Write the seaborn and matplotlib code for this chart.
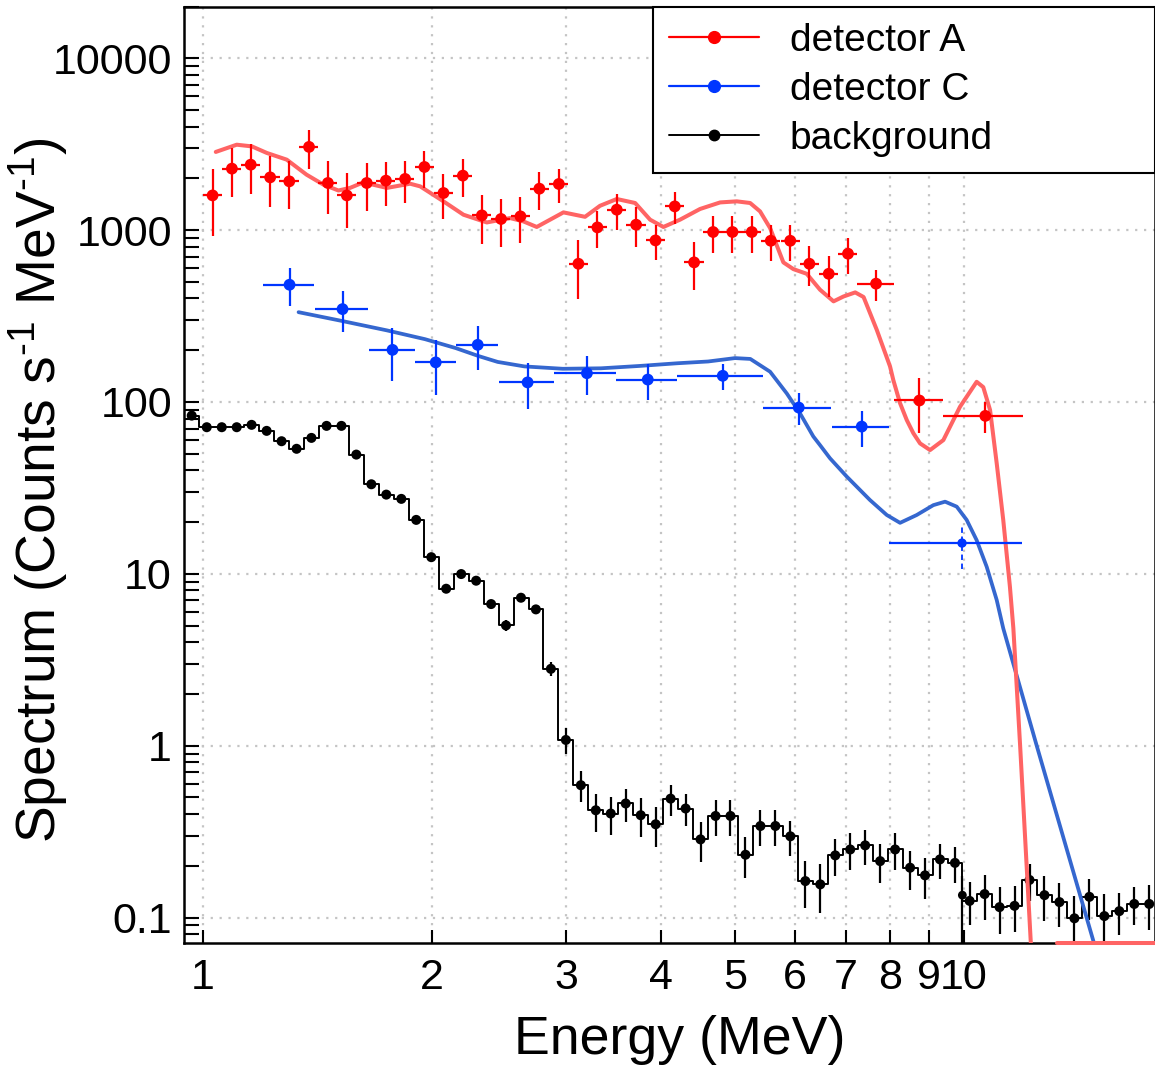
import numpy as np
import pandas as pd
import matplotlib
matplotlib.use("Agg")
import matplotlib.pyplot as plt
import seaborn as sns
from matplotlib.lines import Line2D
from matplotlib.ticker import FixedLocator, FixedFormatter, LogLocator, NullLocator, NullFormatter

# ---------------- data ----------------
# detector A (red points)
a_energy = [1.030, 1.092, 1.156, 1.226, 1.299, 1.379, 1.460, 1.546, 1.642, 1.740,
            1.844, 1.955, 2.071, 2.196, 2.326, 2.465, 2.614, 2.768, 2.936, 3.115,
            3.299, 3.498, 3.709, 3.933, 4.169, 4.420, 4.681, 4.964, 5.263, 5.574,
            5.912, 6.264, 6.642, 7.040, 7.664, 8.738, 10.666]
a_value = [1592, 2279, 2403, 2027, 1922, 3049, 1880, 1592, 1880, 1940,
           1985, 2330, 1644, 2075, 1218, 1161, 1202, 1742, 1855, 637,
           1037, 1315, 1075, 871, 1374, 649, 975, 975, 975, 867,
           867, 637, 557, 729, 488, 102, 83]
a_err = [670, 730, 770, 660, 600, 790, 640, 560, 580, 550,
         555, 570, 480, 520, 390, 360, 360, 425, 410, 240,
         250, 308, 280, 204, 290, 200, 240, 240, 240, 208,
         208, 166, 150, 170, 101, 36, 17]
a_xerr = [0.030, 0.032, 0.034, 0.036, 0.038, 0.040, 0.042, 0.045, 0.048, 0.050,
          0.053, 0.057, 0.060, 0.064, 0.067, 0.071, 0.076, 0.080, 0.085, 0.090,
          0.096, 0.101, 0.108, 0.114, 0.121, 0.128, 0.136, 0.144, 0.153, 0.162,
          0.171, 0.182, 0.193, 0.204, 0.42, 0.64, 1.29]

# detector C (blue points)
c_energy = [1.300, 1.526, 1.775, 2.023, 2.297, 2.671, 3.196, 3.842, 4.820, 6.066, 7.339, 9.94]
c_value = [481, 347, 201, 170, 215, 130, 147, 135, 142, 92.8, 71.9, 15.1]
c_err = [120, 93, 68, 60, 62, 39, 37, 32, 24, 19.5, 17, 4.5]
c_xerr = [0.099, 0.124, 0.123, 0.125, 0.149, 0.222, 0.299, 0.350, 0.621, 0.615, 0.638, 1.98]

# background (black histogram)
bg_energy = [0.967, 1.012, 1.059, 1.108, 1.159, 1.213, 1.269, 1.328, 1.389, 1.454,
             1.521, 1.591, 1.665, 1.742, 1.823, 1.907, 1.996, 2.088, 2.185, 2.286,
             2.392, 2.502, 2.618, 2.739, 2.866, 2.999, 3.138, 3.283, 3.435, 3.594,
             3.761, 3.935, 4.117, 4.308, 4.507, 4.716, 4.934, 5.163, 5.402, 5.652,
             5.914, 6.188, 6.474, 6.774, 7.088, 7.416, 7.759, 8.119, 8.495, 8.888,
             9.299, 9.730, 10.172, 10.643, 11.136, 11.652, 12.191, 12.756, 13.347, 13.965,
             14.611, 15.288, 15.996, 16.736, 17.511]
bg_value = [83.3, 71.3, 71.3, 71.3, 73.6, 67.9, 59.1, 53.4, 61.8, 72.6,
            72.6, 49.4, 33.2, 28.9, 27.3, 20.6, 12.5, 8.19, 9.97, 9.12,
            6.67, 5.01, 7.26, 6.21, 2.80, 1.08, 0.589, 0.421, 0.403, 0.461,
            0.394, 0.349, 0.492, 0.431, 0.285, 0.390, 0.390, 0.232, 0.341, 0.341,
            0.297, 0.163, 0.156, 0.230, 0.249, 0.263, 0.213, 0.249, 0.195, 0.176,
            0.218, 0.208, 0.125, 0.137, 0.115, 0.117, 0.1655, 0.135, 0.123, 0.099,
            0.132, 0.102, 0.109, 0.120, 0.120]
bg_err = [2.9, 2.5, 2.5, 2.5, 2.6, 2.4, 2.1, 1.9, 2.2, 2.5,
          2.5, 1.7, 1.2, 1.0, 1.0, 0.8, 0.6, 0.45, 0.5, 0.45,
          0.4, 0.35, 0.4, 0.35, 0.25, 0.18, 0.12, 0.105, 0.10, 0.10,
          0.10, 0.09, 0.10, 0.09, 0.075, 0.09, 0.09, 0.063, 0.08, 0.08,
          0.07, 0.05, 0.05, 0.055, 0.06, 0.06, 0.055, 0.06, 0.05, 0.047,
          0.05, 0.05, 0.035, 0.04, 0.035, 0.035, 0.04, 0.04, 0.035, 0.035,
          0.035, 0.035, 0.03, 0.03, 0.035]
bg_extra_energy = [9.95]
bg_extra_value = [0.135]
bg_extra_err_low = [0.1349]
bg_extra_err_high = [0.04]

# model curves
model_a_energy = [1.040, 1.108, 1.160, 1.214, 1.289, 1.369, 1.440, 1.507, 1.561, 1.625,
                  1.745, 1.872, 1.930, 2.071, 2.200, 2.361, 2.533, 2.637, 2.746, 2.977,
                  3.178, 3.325, 3.498, 3.698, 3.869, 4.028, 4.236, 4.500, 4.782, 5.029,
                  5.236, 5.396, 5.562, 5.790, 5.968, 6.214, 6.469, 6.739, 6.946, 7.196,
                  7.380, 7.680, 7.995, 8.075, 8.241, 8.410, 8.579, 8.755, 9.024, 9.394,
                  9.880, 10.39, 10.60, 10.82, 11.04, 11.26, 11.49, 11.61, 11.85, 12.24, 12.40]
model_a_value = [2850, 3140, 3070, 2810, 2570, 2100, 1840, 1700, 1760, 1895,
                 1760, 1862, 1797, 1470, 1229, 1108, 1175, 1124, 1043, 1268,
                 1195, 1385, 1517, 1438, 1150, 1043, 1150, 1327, 1449, 1470,
                 1438, 1285, 1028, 649, 593, 557, 450, 385, 411, 434,
                 408, 263, 161, 134, 98.4, 78.5, 65.8, 57.4, 52.5, 60.0,
                 93.8, 131, 122, 89.8, 43.9, 20.6, 8.41, 4.82, 1.0, 0.071, 0.03]
model_a_floor_energy = [13.24, 17.82]

model_c_energy = [1.336, 1.518, 1.745, 1.958, 2.148, 2.303, 2.440, 2.646, 2.972, 3.335,
                  3.745, 4.204, 4.611, 5.002, 5.239, 5.562, 5.851, 6.088, 6.339, 6.469,
                  6.668, 7.018, 7.523, 7.916, 8.241, 8.668, 9.114, 9.444, 9.782, 10.08,
                  10.39, 10.71, 11.04, 11.26, 12.46, 14.82, 15.09]
model_c_value = [333, 297, 261, 232, 206, 185, 171, 161, 156, 157,
                 162, 168, 172, 180, 178, 150, 112, 86, 63, 56.1,
                 47, 36.7, 26.9, 22.0, 19.8, 22.0, 25.1, 26.3, 24.6, 20.6,
                 15.7, 11.0, 7.04, 4.82, 1.0, 0.0708, 0.06]

x_ticks = [1, 2, 3, 4, 5, 6, 7, 8, 9, 10]
x_tick_labels = ["1", "2", "3", "4", "5", "6", "7", "8", "9", "10"]
y_ticks = [0.1, 1, 10, 100, 1000, 10000]
y_tick_labels = ["0.1", "1", "10", "100", "1000", "10000"]

X_MIN, X_MAX = 0.946, 17.82
Y_MIN, Y_MAX = 0.0711, 2.0e4

# ---------------- style ----------------
sns.set_theme(style="white")
plt.rcParams["font.family"] = ["Liberation Sans", "DejaVu Sans"]
plt.rcParams["text.color"] = "black"
plt.rcParams["axes.labelcolor"] = "black"
plt.rcParams["xtick.color"] = "black"
plt.rcParams["ytick.color"] = "black"
plt.rcParams["mathtext.fontset"] = "custom"
plt.rcParams["mathtext.rm"] = "Liberation Sans"
plt.rcParams["mathtext.it"] = "Liberation Sans:italic"
plt.rcParams["mathtext.bf"] = "Liberation Sans:bold"

RED = "#ff0000"
BLUE = "#0036ff"
RED_CURVE = "#ff6464"
BLUE_CURVE = "#3567cf"

fig = plt.figure(figsize=(11.55, 10.67), dpi=100)
ax = fig.add_axes([0.1597, 0.1162, 0.8403, 0.8777])
ax.set_xscale("log")
ax.set_yscale("log")
ax.set_xlim(X_MIN, X_MAX)
ax.set_ylim(Y_MIN, Y_MAX)

# grid
ax.set_axisbelow(True)
ax.grid(True, which="major", color="#c4c4c4", linestyle=(0, (1, 3)), linewidth=1.6)

# background histogram
bg_df = pd.DataFrame({"energy": bg_energy, "value": bg_value})
sns.lineplot(data=bg_df, x="energy", y="value", drawstyle="steps-mid", color="black",
             linewidth=1.4, estimator=None, ax=ax, legend=False, zorder=3)
ax.errorbar(bg_energy, bg_value, yerr=bg_err, fmt="none", ecolor="black",
            elinewidth=1.6, zorder=3)
ax.errorbar(bg_extra_energy, bg_extra_value, yerr=[bg_extra_err_low, bg_extra_err_high],
            fmt="none", ecolor="black", elinewidth=1.6, zorder=3)
sns.scatterplot(x=bg_energy, y=bg_value, color="black", s=52, edgecolor="none",
                ax=ax, legend=False, zorder=4)
sns.scatterplot(x=bg_extra_energy, y=bg_extra_value, color="black", s=40, edgecolor="none",
                ax=ax, legend=False, zorder=4)

# model curves
ma_df = pd.DataFrame({"energy": model_a_energy, "value": model_a_value})
mc_df = pd.DataFrame({"energy": model_c_energy, "value": model_c_value})
sns.lineplot(data=mc_df, x="energy", y="value", color=BLUE_CURVE, linewidth=2.7,
             estimator=None, ax=ax, legend=False, zorder=5, solid_joinstyle="round")
sns.lineplot(data=ma_df, x="energy", y="value", color=RED_CURVE, linewidth=2.9,
             estimator=None, ax=ax, legend=False, zorder=5, solid_joinstyle="round")
ax.plot(model_a_floor_energy, [Y_MIN] * len(model_a_floor_energy),
        color=RED_CURVE, linewidth=2.9, zorder=6, clip_on=False)

# detector A points
ax.errorbar(a_energy, a_value, yerr=a_err, xerr=a_xerr, fmt="none", ecolor=RED,
            elinewidth=1.6, zorder=6)
sns.scatterplot(x=a_energy, y=a_value, color=RED, s=72, edgecolor="none",
                ax=ax, legend=False, zorder=7)

# detector C points
n_c = len(c_energy) - 1
ax.errorbar(c_energy[:n_c], c_value[:n_c], yerr=c_err[:n_c], xerr=c_xerr[:n_c], fmt="none",
            ecolor=BLUE, elinewidth=1.6, zorder=6)
ax.errorbar(c_energy[n_c:], c_value[n_c:], xerr=c_xerr[n_c:], fmt="none",
            ecolor=BLUE, elinewidth=1.6, zorder=6)
eb = ax.errorbar(c_energy[n_c:], c_value[n_c:], yerr=c_err[n_c:], fmt="none",
                 ecolor=BLUE, elinewidth=1.3, zorder=6)
for coll in eb[2]:
    coll.set_linestyle((0, (3, 2)))
sns.scatterplot(x=c_energy[:n_c], y=c_value[:n_c], color=BLUE, s=72, edgecolor="none",
                ax=ax, legend=False, zorder=7)
sns.scatterplot(x=c_energy[n_c:], y=c_value[n_c:], color=BLUE, s=45, edgecolor="none",
                ax=ax, legend=False, zorder=7)

# ticks
ax.xaxis.set_major_locator(FixedLocator(x_ticks))
ax.xaxis.set_major_formatter(FixedFormatter(x_tick_labels))
ax.xaxis.set_minor_locator(NullLocator())
ax.xaxis.set_minor_formatter(NullFormatter())
ax.yaxis.set_major_locator(FixedLocator(y_ticks))
ax.yaxis.set_major_formatter(FixedFormatter(y_tick_labels))
ax.yaxis.set_minor_locator(LogLocator(base=10, subs=range(2, 10), numticks=30))
ax.yaxis.set_minor_formatter(NullFormatter())
ax.tick_params(axis="y", which="both", direction="in", length=11, width=1.5,
               color="black", labelcolor="black", left=True, right=False, labelsize=31, pad=9)
ax.tick_params(axis="x", which="both", direction="in", length=9.5, width=1.5,
               color="black", labelcolor="black", bottom=True, top=False, labelsize=31, pad=11)

for side in ["left", "bottom", "top", "right"]:
    ax.spines[side].set_color("black")
    ax.spines[side].set_linewidth(1.8)

ax.set_xlabel("Energy (MeV)", fontsize=38.7, color="black")
ax.xaxis.set_label_coords(0.510, -0.077)
ax.set_ylabel(r"Spectrum (Counts s$^{\text{-1}}$ MeV$^{\text{-1}}$)", fontsize=39.7, color="black")
ax.yaxis.set_label_coords(-0.118, 0.4837)

# legend
handles = [
    Line2D([0], [0], color=RED, lw=1.6, marker="o", markersize=8.5),
    Line2D([0], [0], color=BLUE, lw=1.6, marker="o", markersize=8.5),
    Line2D([0], [0], color="black", lw=1.4, marker="o", markersize=7.5),
]
labels = ["detector A", "detector C", "background"]
leg = ax.legend(handles, labels, loc="upper left",
                bbox_to_anchor=(0.4827, 0.0, 0.5173, 1.0), mode="expand",
                borderaxespad=0.0, fontsize=28, handlelength=2.3, handletextpad=0.8,
                labelspacing=0.33, borderpad=0.42, fancybox=False, framealpha=1.0,
                edgecolor="black")
leg.get_frame().set_linewidth(1.5)
for t in leg.get_texts():
    t.set_color("black")
leg.set_zorder(10)

fig.savefig("out.png", dpi=100)
